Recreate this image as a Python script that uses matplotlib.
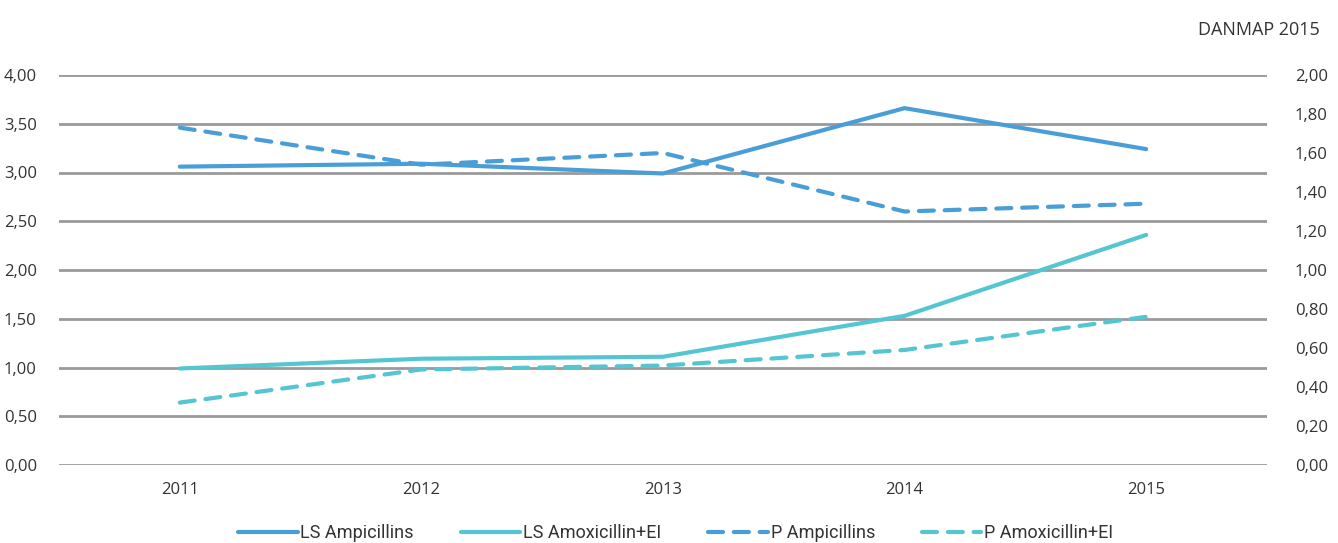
import matplotlib.pyplot as plt
from matplotlib.ticker import FuncFormatter

years = ["2011", "2012", "2013", "2014", "2015"]
ls_ampicillins = [3.06, 3.09, 2.99, 3.66, 3.24]
ls_amoxicillin_ei = [0.99, 1.09, 1.11, 1.53, 2.36]
p_ampicillins = [1.73, 1.54, 1.60, 1.30, 1.34]
p_amoxicillin_ei = [0.32, 0.49, 0.51, 0.59, 0.76]

blue = "#4a9ed7"
cyan = "#55c6d1"
grid_col = "#9a9a9c"

plt.rcParams["font.family"] = ["Open Sans", "DejaVu Sans"]

fig = plt.figure(figsize=(13.38, 5.43), dpi=100)
ax = fig.add_axes([59 / 1338, 1 - 465 / 543, 1208 / 1338, 390 / 543])
ax2 = ax.twinx()

x = list(range(len(years)))
lw = 3.0
dash = (3.6, 2.6)

l1, = ax.plot(x, ls_ampicillins, color=blue, lw=lw, solid_capstyle="round",
              label="LS Ampicillins", zorder=3)
l2, = ax.plot(x, ls_amoxicillin_ei, color=cyan, lw=lw, solid_capstyle="round",
              label="LS Amoxicillin+EI", zorder=3)
l3, = ax2.plot(x, p_ampicillins, color=blue, lw=lw, dashes=dash,
               dash_capstyle="round", label="P Ampicillins")
l4, = ax2.plot(x, p_amoxicillin_ei, color=cyan, lw=lw, dashes=dash,
               dash_capstyle="round", label="P Amoxicillin+EI")

ax.set_xlim(-0.5, 4.5)
ax.set_ylim(0, 4.0)
ax2.set_ylim(0, 2.0)
ax.set_yticks([i * 0.5 for i in range(9)])
ax2.set_yticks([i * 0.2 for i in range(11)])
fmt = FuncFormatter(lambda v, p: f"{v:.2f}".replace(".", ","))
ax.yaxis.set_major_formatter(fmt)
ax2.yaxis.set_major_formatter(fmt)
ax.set_xticks(x)
ax.set_xticklabels(years)

ax.grid(axis="y", color=grid_col, lw=2.0)
ax.set_axisbelow(True)
for a in (ax, ax2):
    for s in a.spines.values():
        s.set_visible(False)
ax.tick_params(axis="both", length=0, labelsize=12, colors="#333333")
ax.tick_params(axis="y", pad=16)
ax.tick_params(axis="x", pad=12)
ax2.tick_params(axis="y", length=0, labelsize=12, colors="#333333", pad=20)

fig.text(0.986, 0.945, "DANMAP 2015", ha="right", va="center",
         fontsize=13, color="#333333")

# legend uses a narrower face, with two-dash handles for the dashed series
leg = fig.legend(handles=[l1, l2, l3, l4], loc="center", ncol=4,
                 bbox_to_anchor=(0.505, 0.018), frameon=False,
                 handlelength=3.3, handletextpad=0.15, columnspacing=2.6,
                 prop={"family": ["Roboto", "DejaVu Sans"], "size": 13})
for t in leg.get_texts():
    t.set_color("#333333")

fig.savefig("out.png", dpi=100)
